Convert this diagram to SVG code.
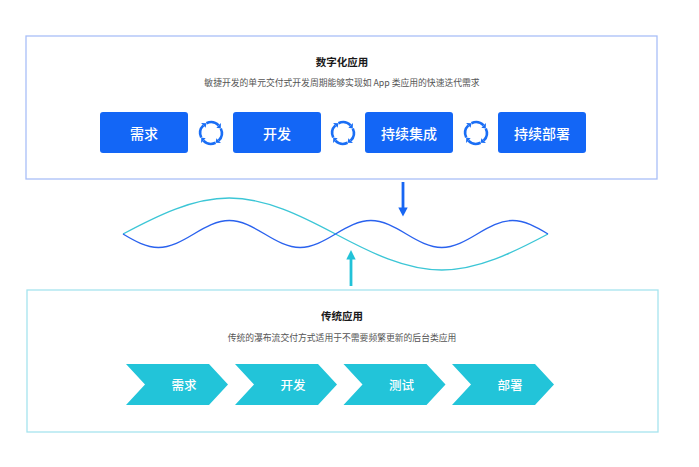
<svg xmlns="http://www.w3.org/2000/svg" width="699" height="467" viewBox="0 0 699 467">
<defs>
<style>
.frameA{fill:#fff;stroke:#a9bff7;stroke-width:1.3}
.frameB{fill:#fff;stroke:#a6e4ee;stroke-width:1.3}
.title{font-family:"Noto Sans CJK SC","Noto Sans",sans-serif;font-size:10.5px;font-weight:700;fill:#1a1a1a;text-anchor:middle}
.sub{font-family:"Noto Sans CJK SC","Noto Sans",sans-serif;font-size:8.8px;fill:#555;text-anchor:middle}
.box{fill:#1366f6}
.boxt{font-family:"Noto Sans CJK SC","Noto Sans",sans-serif;font-size:14px;font-weight:500;fill:#fff;text-anchor:middle;dominant-baseline:central}
.chev{fill:#22c4d9}
.chevt{font-family:"Noto Sans CJK SC","Noto Sans",sans-serif;font-size:12.5px;font-weight:500;fill:#fff;text-anchor:middle;dominant-baseline:central}
.cyc{fill:none;stroke:#1a6ef5;stroke-width:2.6}
.cych{fill:#1a6ef5}
</style>
<g id="piece">
<path class="cyc" d="M-4.56,-9.79 A10.8,10.8 0 0 1 7.64,-7.64"/>
<path class="cych" d="M9.9,-9.9 L9.79,-4.56 L5.37,-5.37 Z"/>
</g>
<g id="cycle">
<use href="#piece"/>
<use href="#piece" transform="rotate(90)"/>
<use href="#piece" transform="rotate(180)"/>
<use href="#piece" transform="rotate(270)"/>
</g>
</defs>
<rect width="699" height="467" fill="#fff"/>

<g id="digital">
<rect class="frameA" x="26" y="36" width="631" height="143"/>
<text class="title" x="342" y="66">数字化应用</text>
<text class="sub" x="342" y="86">敏捷开发的单元交付式开发周期能够实现如 App 类应用的快速迭代需求</text>
</g>
<g id="d-req"><rect class="box" x="100" y="112" width="88" height="41" rx="3"/><text class="boxt" x="144" y="132.5">需求</text></g>
<g id="d-dev"><rect class="box" x="233" y="112" width="88" height="41" rx="3"/><text class="boxt" x="277" y="132.5">开发</text></g>
<g id="d-ci"><rect class="box" x="365" y="112" width="88" height="41" rx="3"/><text class="boxt" x="409" y="132.5">持续集成</text></g>
<g id="d-cd"><rect class="box" x="498" y="112" width="88" height="41" rx="3"/><text class="boxt" x="542" y="132.5">持续部署</text></g>

<g id="cycles">
<use href="#cycle" transform="translate(211,133)"/>
<use href="#cycle" transform="translate(343,133)"/>
<use href="#cycle" transform="translate(476,133)"/>
</g>

<g id="traditional">
<rect class="frameB" x="27" y="290" width="631" height="142"/>
<text class="title" x="342" y="320">传统应用</text>
<text class="sub" x="342" y="341">传统的瀑布流交付方式适用于不需要频繁更新的后台类应用</text>
</g>
<g id="t-req"><path class="chev" d="M126,364 H209 L228,384.5 L209,405 H126 L145,384.5 Z"/><text class="chevt" x="184" y="384.5">需求</text></g>
<g id="t-dev"><path class="chev" d="M235,364 H318 L337,384.5 L318,405 H235 L254,384.5 Z"/><text class="chevt" x="293" y="384.5">开发</text></g>
<g id="t-test"><path class="chev" d="M343.5,364 H426.5 L445.5,384.5 L426.5,405 H343.5 L362.5,384.5 Z"/><text class="chevt" x="401.5" y="384.5">测试</text></g>
<g id="t-dep"><path class="chev" d="M452,364 H535 L554,384.5 L535,405 H452 L471,384.5 Z"/><text class="chevt" x="510" y="384.5">部署</text></g>

<g id="connectors">
<path d="M123,234 C157.6,215.6 193,198 229.25,198 S300.9,215.6 335.5,234 S405.45,270 441.75,270 S513.4,252.4 548,234" fill="none" stroke="#3cc6d6" stroke-width="1.4"/>
<path d="M123,234 C134.5,240.9 146.3,247.5 158.4,247.5 S182.3,240.9 193.8,234 S217.1,220.5 229.3,220.5 S253.2,227.1 264.7,234 S288,247.5 300.1,247.5 S324,240.9 335.5,234 S358.8,220.5 370.9,220.5 S394.8,227.1 406.3,234 S429.7,247.5 441.8,247.5 S465.7,240.9 477.2,234 S500.5,220.5 512.6,220.5 S536.5,227.1 548,234" fill="none" stroke="#2a62ee" stroke-width="1.4"/>
<line x1="403" y1="182" x2="403" y2="209" stroke="#1766f3" stroke-width="2.8"/>
<path d="M398.3,207.5 L407.7,207.5 L403,216.5 Z" fill="#1766f3"/>
<line x1="351" y1="286" x2="351" y2="258" stroke="#22c2d8" stroke-width="2.8"/>
<path d="M346.3,259.5 L355.7,259.5 L351,250 Z" fill="#22c2d8"/>
</g>
</svg>
